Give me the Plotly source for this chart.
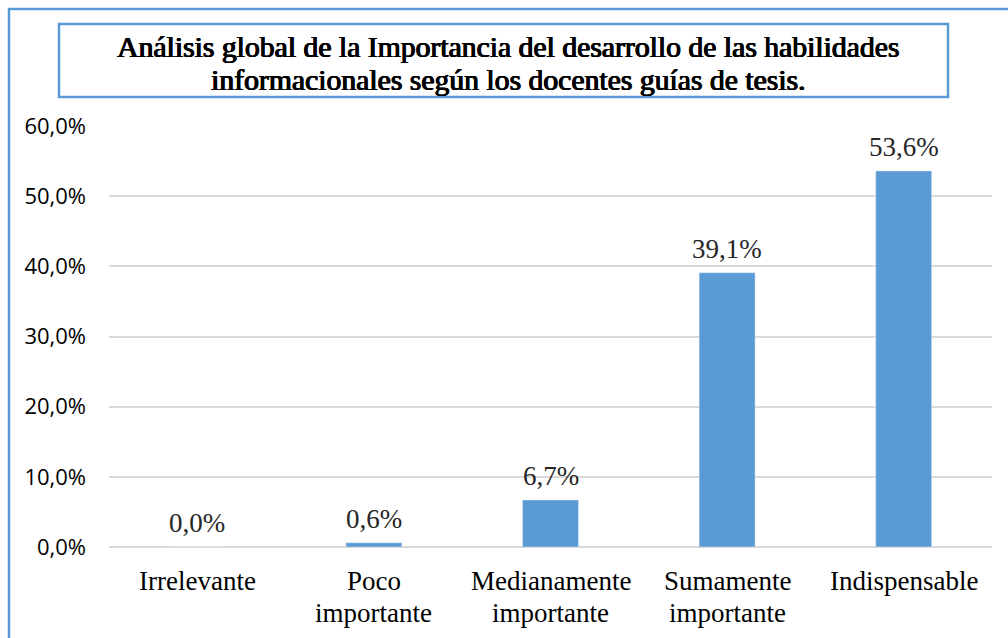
import plotly.graph_objects as go

# Datos del gráfico
categorias = ["Irrelevante", "Poco<br>importante", "Medianamente<br>importante",
              "Sumamente<br>importante", "Indispensable"]
porcentajes = [0.0, 0.6, 6.7, 39.1, 53.6]
ticks_y = [0, 10, 20, 30, 40, 50, 60]
titulo = ["Análisis global de la Importancia del desarrollo de las habilidades",
          "informacionales según los docentes guías de tesis."]

AZUL = "#5B9BD5"
W, H = 1008, 638
ML, MR, MT, MB = 109, 16, 126, 91
PW, PH = W - ML - MR, H - MT - MB
SERIF = "Liberation Serif, Times New Roman, serif"


def px_x(p):
    return (p - ML) / PW


def px_y(p):
    return (H - MB - p) / PH


def etiqueta(v):
    return f"{v:.1f}".replace(".", ",") + "%"


fig = go.Figure()
fig.add_trace(go.Bar(
    x=categorias, y=porcentajes, marker_color=AZUL, width=0.317,
    hoverinfo="skip",
))

annotations = []
# etiquetas de valor sobre cada barra
for c, v in zip(categorias, porcentajes):
    annotations.append(dict(
        x=c, y=v, xref="x", yref="y", text=etiqueta(v), showarrow=False,
        yanchor="bottom", yshift=7,
        font=dict(family=SERIF, size=27, color="#262626"),
    ))

# nombres de categoría, una línea por anotación
for c in categorias:
    for i, linea in enumerate(c.split("<br>")):
        annotations.append(dict(
            x=c, y=px_y(581 + 32 * i), xref="x", yref="paper", text=linea,
            showarrow=False, yanchor="middle",
            font=dict(family=SERIF, size=27, color="#000000"),
        ))

# título en dos líneas, con trazo engrosado
fuente_titulo = dict(family=SERIF, size=29.7, color="#000000",
                     shadow="0.7px 0 0 #000, -0.4px 0 0 #000, 0 0.3px 0 #000")
for i, linea in enumerate(titulo):
    annotations.append(dict(
        x=px_x((59 + 948) / 2 + 4), y=px_y(47 + 33 * i), xref="paper", yref="paper",
        text=linea, showarrow=False, xanchor="center", yanchor="middle",
        font=fuente_titulo,
    ))

shapes = [
    # recuadro del título
    dict(type="rect", xref="paper", yref="paper",
         x0=px_x(59), x1=px_x(948), y0=px_y(97), y1=px_y(24),
         line=dict(color=AZUL, width=2.5), fillcolor="white", layer="below"),
    # borde exterior del gráfico
    dict(type="rect", xref="paper", yref="paper",
         x0=px_x(9), x1=px_x(1020), y0=px_y(660), y1=px_y(9),
         line=dict(color=AZUL, width=2.5), layer="below"),
]

fig.update_layout(
    width=W, height=H,
    margin=dict(l=ML, r=MR, t=MT, b=MB),
    paper_bgcolor="white", plot_bgcolor="white",
    separators=",.",
    showlegend=False,
    annotations=annotations,
    shapes=shapes,
    xaxis=dict(
        showgrid=False, showline=False, ticks="", showticklabels=False,
    ),
    yaxis=dict(
        range=[0, 60], tickvals=ticks_y,
        ticktext=[etiqueta(t) for t in ticks_y],
        showgrid=True, gridcolor="#D9D9D9", gridwidth=1.5,
        zeroline=True, zerolinecolor="#D9D9D9", zerolinewidth=1.5,
        showline=False, ticks="",
        tickfont=dict(family="Open Sans", size=22, color="#000000"),
        ticklabelstandoff=22,
    ),
)

fig.write_html("out.html")
